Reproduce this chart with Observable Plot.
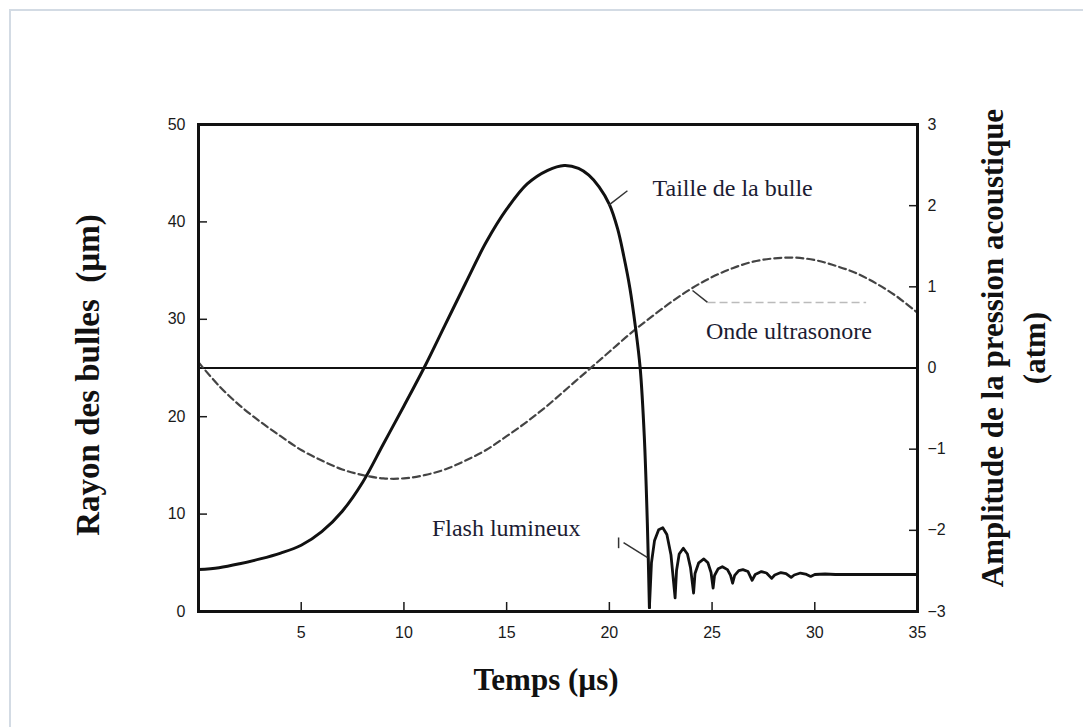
<!DOCTYPE html>
<html>
<head>
<meta charset="utf-8">
<script src="https://cdn.jsdelivr.net/npm/d3@7"></script>
<script src="https://cdn.jsdelivr.net/npm/@observablehq/plot@0.6"></script>
<style>
  html, body { margin: 0; padding: 0; background: #fff; }
  #wrap { position: relative; width: 1083px; height: 727px; overflow: hidden; }
  #border { position: absolute; left: 9px; top: 9px; width: 1200px; height: 900px;
            border-top: 2px solid #d3dbe4; border-left: 2px solid #d3dbe4; }
  #chart { position: absolute; left: 0; top: 0; }
</style>
</head>
<body>
<div id="wrap"><div id="border"></div><div id="chart"></div></div>
<script>
// Bubble radius (µm) – growth and collapse
const riseTime   = [0, 1, 2, 3, 4, 5, 6, 7, 8, 9, 10, 11, 12, 13, 14, 15, 16, 17, 17.8, 18.5, 19.0, 19.5, 20.0, 20.4, 20.7, 21.0, 21.27, 21.5, 21.7, 21.85, 21.95];
const riseRadius = [4.3, 4.5, 4.9, 5.4, 6.0, 6.8, 8.2, 10.3, 13.3, 17.2, 21.1, 25.1, 29.4, 33.7, 37.9, 41.3, 43.9, 45.3, 45.8, 45.5, 44.8, 43.6, 41.8, 39.3, 36.5, 33.2, 29.2, 25.0, 18.0, 9.0, 0.4];
// Bubble radius (µm) – rebounds after collapse
const reboundTime   = [21.95, 22.05, 22.2, 22.4, 22.6, 22.8, 23.0, 23.2, 23.27, 23.4, 23.6, 23.8, 23.95, 24.1, 24.17, 24.35, 24.6, 24.8, 24.95, 25.05, 25.12, 25.3, 25.5, 25.75, 25.9, 26.0, 26.1, 26.3, 26.5, 26.75, 26.95, 27.1, 27.4, 27.65, 27.9, 28.05, 28.35, 28.6, 28.85, 29.0, 29.3, 29.55, 29.8, 30.0, 30.5, 31, 33, 35];
const reboundRadius = [0.4, 5.0, 7.3, 8.4, 8.6, 7.9, 5.8, 1.4, 4.2, 5.9, 6.5, 5.9, 4.5, 1.9, 3.9, 5.0, 5.4, 5.0, 4.0, 2.4, 3.7, 4.4, 4.6, 4.3, 3.7, 2.9, 3.7, 4.2, 4.3, 4.1, 3.2, 3.8, 4.1, 3.95, 3.4, 3.75, 4.0, 3.9, 3.5, 3.75, 3.95, 3.85, 3.6, 3.8, 3.85, 3.8, 3.8, 3.8];
// Ultrasound wave (atm)
const waveTime     = [0, 1, 2, 3, 4, 5, 6, 7, 8, 9, 10, 11, 12, 13, 14, 15, 16, 17, 18, 19, 20, 21, 22, 23, 24, 25, 26, 27, 28, 29, 30, 31, 32, 33, 34, 35];
const wavePressure = [0.07, -0.22, -0.46, -0.66, -0.84, -1.01, -1.14, -1.25, -1.32, -1.36, -1.36, -1.32, -1.25, -1.14, -1.01, -0.84, -0.66, -0.46, -0.24, -0.02, 0.20, 0.42, 0.62, 0.81, 0.98, 1.12, 1.23, 1.31, 1.35, 1.36, 1.33, 1.26, 1.17, 1.04, 0.88, 0.68];

const xTicks     = [5, 10, 15, 20, 25, 30, 35];
const leftTicks  = [0, 10, 20, 30, 40, 50];
const rightTicks = [-3, -2, -1, 0, 1, 2, 3];
const rightLabels = ["\u22123", "\u22122", "\u22121", "0", "1", "2", "3"];

// Annotations (data coordinates: time µs, radius µm)
const startLabels = [
  {s: "Taille de la bulle", t: 22.1, r: 43.4},
  {s: "Onde ultrasonore", t: 24.7, r: 28.75}
];
const endLabels = [
  {s: "Flash lumineux", t: 18.6, r: 8.5}
];
const leaders = [
  {x1: 19.96, y1: 41.7, x2: 20.88, y2: 43.2},
  {x1: 24.05, y1: 32.96, x2: 24.78, y2: 31.73},
  {x1: 20.69, y1: 7.08, x2: 21.86, y2: 5.54},
  {x1: 20.45, y1: 7.6, x2: 20.45, y2: 6.5}
];
const underline = [{x1: 24.78, y1: 31.73, x2: 32.5, y2: 31.73}];

// pressure axis (-3..3) is mapped onto the radius axis (0..50)
const pToR = p => 25 + p * 50 / 6;

const rise = riseTime.map((t, i) => ({t, r: riseRadius[i]}));
const rebound = reboundTime.map((t, i) => ({t, r: reboundRadius[i]}));
const wave = waveTime.map((t, i) => ({t, p: wavePressure[i]}));

const serif = "'Liberation Serif', 'Times New Roman', serif";
const sans = "'Liberation Sans', Arial, sans-serif";
const titleStyle = {fontFamily: serif, fontWeight: "bold", fill: "#111", textAnchor: "middle", lineAnchor: "middle"};

const chart = Plot.plot({
  width: 1083,
  height: 727,
  marginLeft: 198,
  marginRight: 166,
  marginTop: 124,
  marginBottom: 116,
  style: {fontFamily: sans, fontSize: "16px", color: "#1a1a1a", background: "transparent"},
  x: {domain: [0, 35]},
  y: {domain: [0, 50]},
  marks: [
    Plot.axisX({ticks: xTicks, tickSize: -9, tickPadding: 24, label: null, strokeWidth: 1.5, fontSize: 16}),
    Plot.axisY({anchor: "left", ticks: leftTicks, tickSize: -9, tickPadding: 22, label: null, strokeWidth: 1.5, fontSize: 16}),
    Plot.axisY({anchor: "right", ticks: rightTicks.map(pToR), tickFormat: (d, i) => rightLabels[i], tickSize: -9, tickPadding: 19, label: null, strokeWidth: 1.5, fontSize: 16}),
    Plot.ruleY([0], {y: pToR, stroke: "#111", strokeWidth: 2}),
    Plot.line(wave, {x: "t", y: d => pToR(d.p), stroke: "#444", strokeWidth: 2.2, strokeDasharray: "7,4", curve: "catmull-rom"}),
    Plot.line(rise, {x: "t", y: "r", stroke: "#111", strokeWidth: 3, curve: "catmull-rom"}),
    Plot.line(rebound, {x: "t", y: "r", stroke: "#111", strokeWidth: 2.8, curve: "linear"}),
    Plot.link(leaders, {x1: "x1", y1: "y1", x2: "x2", y2: "y2", stroke: "#333", strokeWidth: 1.5}),
    Plot.link(underline, {x1: "x1", y1: "y1", x2: "x2", y2: "y2", stroke: "#bbb", strokeWidth: 1.5, strokeDasharray: "8,4"}),
    Plot.text(startLabels, {x: "t", y: "r", text: "s", textAnchor: "start", fontFamily: serif, fontSize: 24, fill: "#1c1c33"}),
    Plot.text(endLabels, {x: "t", y: "r", text: "s", textAnchor: "end", fontFamily: serif, fontSize: 24, fill: "#1c1c33"}),
    Plot.frame({stroke: "#111", strokeWidth: 3}),
    Plot.text(["Rayon des bulles \u00a0(\u00b5m)"], {frameAnchor: "left", dx: -110, dy: 7, rotate: -90, fontSize: 33, ...titleStyle}),
    Plot.text(["Amplitude de la pression acoustique"], {frameAnchor: "right", dx: 76, dy: -20, rotate: -90, fontSize: 31, ...titleStyle}),
    Plot.text(["(atm)"], {frameAnchor: "right", dx: 118, dy: -20, rotate: -90, fontSize: 31, ...titleStyle}),
    Plot.text(["Temps (\u00b5s)"], {frameAnchor: "bottom", dx: -12, dy: 69, fontSize: 31, ...titleStyle})
  ]
});
document.getElementById("chart").appendChild(chart);
</script>
</body>
</html>
